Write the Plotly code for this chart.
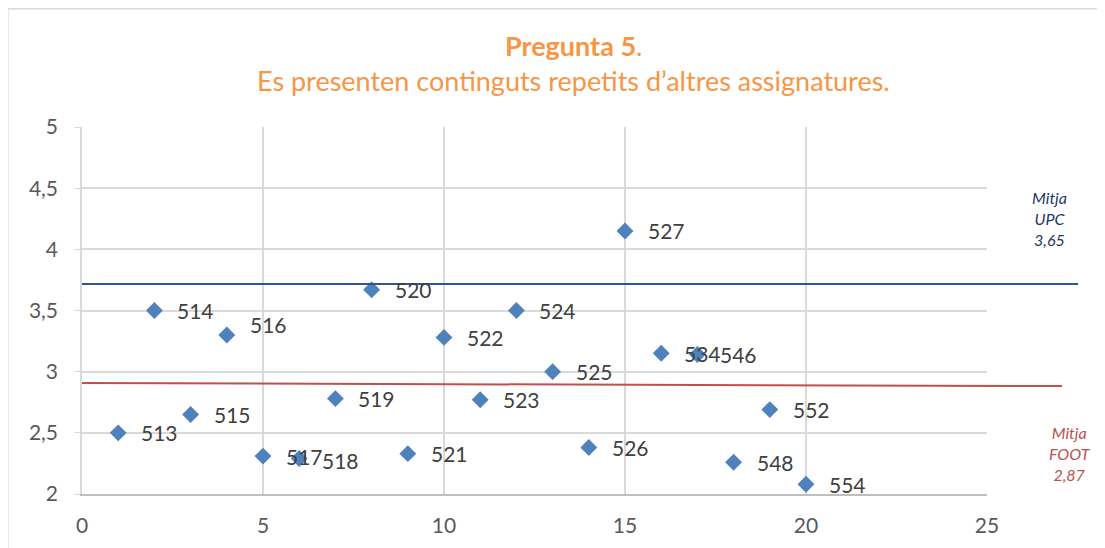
import plotly.graph_objects as go

# Data
x_vals = [1, 2, 3, 4, 5, 6, 7, 8, 9, 10, 11, 12, 13, 14, 15, 16, 17, 18, 19, 20]
y_vals = [2.50, 3.50, 2.65, 3.30, 2.31, 2.29, 2.78, 3.67, 2.33, 3.28,
          2.77, 3.50, 3.00, 2.38, 4.15, 3.15, 3.14, 2.26, 2.69, 2.08]
point_labels = ["513", "514", "515", "516", "517", "518", "519", "520", "521", "522",
                "523", "524", "525", "526", "527", "534", "546", "548", "552", "554"]
upc_line_y = [3.716, 3.716]
foot_line_y = [2.907, 2.882]
upc_label = "<i>Mitja<br>UPC<br>3,65</i>"
foot_label = "<i>Mitja<br>FOOT<br>2,87</i>"
x_ticks = [0, 5, 10, 15, 20, 25]
y_ticks = [2, 2.5, 3, 3.5, 4, 4.5, 5]

FONT = "Lato"
ORANGE = "#F79646"
TICK_COL = "#595959"
GRID = "#D9D9D9"

# label placement tweaks (style only)
label_yshift = {"516": 10, "518": -2}

fig = go.Figure()
fig.add_trace(go.Scatter(
    x=x_vals, y=y_vals, mode="markers",
    marker=dict(symbol="diamond", size=13, color="#4F81BD",
                line=dict(width=0)),
    hoverinfo="skip", showlegend=False,
))

annotations = []
for xv, yv, lab in zip(x_vals, y_vals, point_labels):
    annotations.append(dict(x=xv, y=yv, xref="x", yref="y", text=lab,
                            showarrow=False, xanchor="left", yanchor="middle",
                            xshift=21, yshift=label_yshift.get(lab, 0),
                            font=dict(family=FONT, size=21, color="#404040")))

annotations.append(dict(x=1.0696, y=4.25, xref="paper", yref="y", text=upc_label,
                        showarrow=False, xanchor="center", yanchor="middle",
                        font=dict(family=FONT, size=16, color="#1F3864"),
                        align="center"))
annotations.append(dict(x=1.0917, y=2.334, xref="paper", yref="y",
                        text=foot_label, showarrow=False, xanchor="center",
                        yanchor="middle", align="center",
                        font=dict(family=FONT, size=16, color="#C0504D")))
annotations.append(dict(x=0.543, y=1.222, xref="paper", yref="paper",
                        text="<b>Pregunta 5</b>.", showarrow=False,
                        xanchor="center", yanchor="middle",
                        font=dict(family=FONT, size=27, color=ORANGE)))
annotations.append(dict(x=0.543, y=1.128, xref="paper", yref="paper",
                        text="Es presenten continguts repetits d\u2019altres assignatures.",
                        showarrow=False, xanchor="center", yanchor="middle",
                        font=dict(family=FONT, size=27, color=ORANGE)))

shapes = [
    dict(type="line", xref="paper", yref="y", x0=0, x1=1.1006,
         y0=upc_line_y[0], y1=upc_line_y[1],
         line=dict(color="#2F5597", width=2)),
    dict(type="line", xref="paper", yref="y", x0=0, x1=1.0829,
         y0=foot_line_y[0], y1=foot_line_y[1],
         line=dict(color="#C0504D", width=2)),
    dict(type="rect", xref="paper", yref="paper", x0=-0.082, x1=1.3,
         y0=-0.3, y1=1.322, line=dict(color="#D9D9D9", width=1.5),
         fillcolor="rgba(0,0,0,0)", layer="below"),
]

fig.update_layout(
    width=1097, height=540,
    margin=dict(l=74, r=118, t=119, b=54),
    paper_bgcolor="white", plot_bgcolor="white",
    separators=", ",
    showlegend=False,
    annotations=annotations,
    shapes=shapes,
    font=dict(family=FONT, color=TICK_COL),
    xaxis=dict(range=[0, 25], tickvals=x_ticks, showgrid=True, gridcolor=GRID,
               gridwidth=1.5, zeroline=False, showline=True, linecolor="#BFBFBF",
               linewidth=2, ticks="", tickfont=dict(family=FONT, size=21, color=TICK_COL),
               ticklabelstandoff=12, fixedrange=True),
    yaxis=dict(range=[2, 5], tickvals=y_ticks, showgrid=True, gridcolor=GRID,
               gridwidth=1.5, zeroline=False, showline=True, linecolor=GRID,
               linewidth=1.5, ticks="outside", ticklen=6, tickcolor=GRID,
               tickfont=dict(family=FONT, size=21, color=TICK_COL),
               ticklabelstandoff=12, fixedrange=True),
)

fig.write_html("out.html")
